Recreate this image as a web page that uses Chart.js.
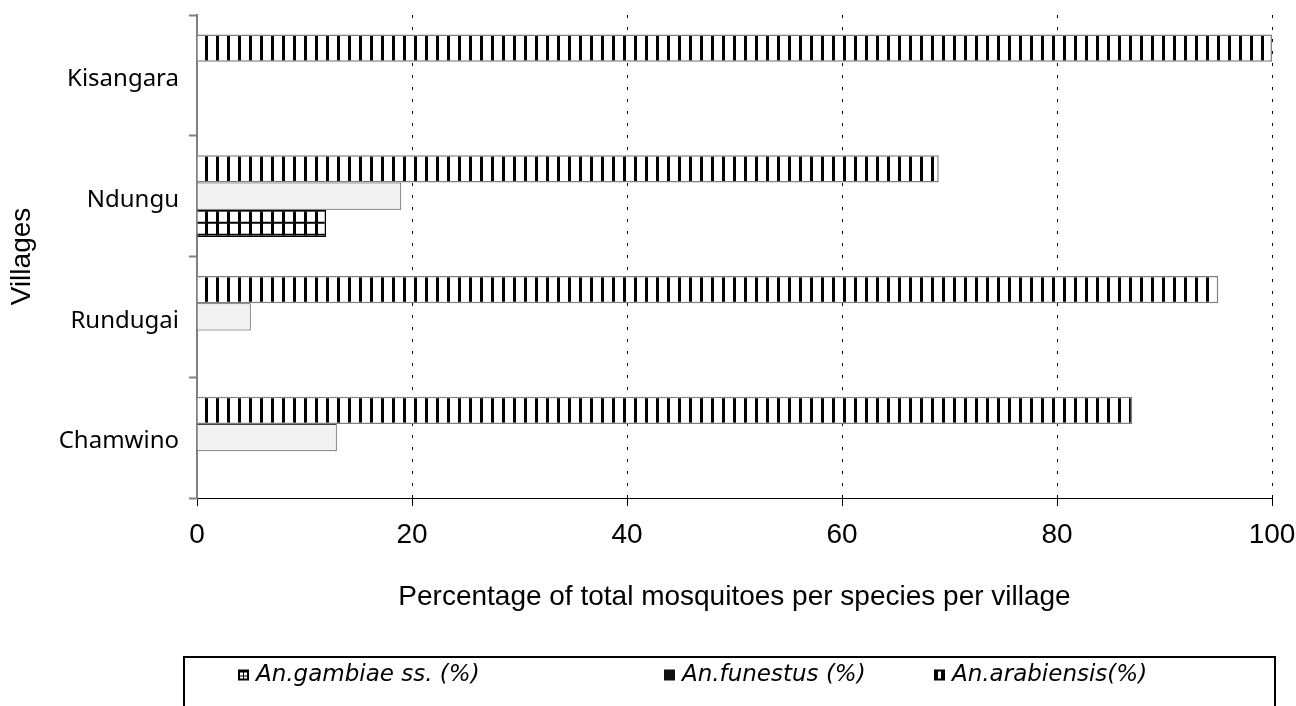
<!DOCTYPE html>
<html>
<head>
<meta charset="utf-8">
<script src="https://cdn.jsdelivr.net/npm/chart.js@4.4.0/dist/chart.umd.min.js"></script>
<style>
    html, body { margin: 0; padding: 0; background: #fff; }
    #wrap { width: 1296px; height: 706px; position: relative; }
</style>
</head>
<body>
<div id="wrap"><canvas id="speciesChart"></canvas></div>
<script>
// Villages, top to bottom as they appear on the chart
const villages = ['Kisangara', 'Ndungu', 'Rundugai', 'Chamwino'];

// Percentage of total mosquitoes per species per village
const gambiaeSS = [0, 12, 0, 0];
const funestus = [0, 19, 5, 13];
const arabiensis = [100, 69, 95, 87];

const xTickValues = [0, 20, 40, 60, 80, 100];
const legendLabels = ['An.gambiae ss. (%)', 'An.funestus (%)', 'An.arabiensis(%)'];

const canvas = document.getElementById('speciesChart');
const ctx = canvas.getContext('2d');

// Vertical stripes for An.arabiensis
function makeStripePattern() {
    const c = document.createElement('canvas');
    c.width = 11; c.height = 4;
    const g = c.getContext('2d');
    g.fillStyle = '#fff';
    g.fillRect(0, 0, 11, 4);
    g.fillStyle = '#000';
    g.fillRect(8, 0, 3, 4);
    return ctx.createPattern(c, 'repeat');
}

// Square grid for An.gambiae ss.
function makeGridPattern() {
    const c = document.createElement('canvas');
    c.width = 11; c.height = 12;
    const g = c.getContext('2d');
    g.fillStyle = '#fff';
    g.fillRect(0, 0, 11, 12);
    g.fillStyle = '#000';
    g.fillRect(8, 0, 3, 12);
    g.fillRect(0, 0, 11, 2);
    return ctx.createPattern(c, 'repeat');
}

const stripePattern = makeStripePattern();
const gridPattern = makeGridPattern();

// keep the hatching anchored to the bars
const patternAlign = {
    id: 'patternAlign',
    beforeDatasetsDraw(chart) {
        const left = chart.chartArea.left;
        const el = chart.getDatasetMeta(2).data[1];
        const top = el.y - el.height / 2;
        stripePattern.setTransform(new DOMMatrix([1, 0, 0, 1, left, 0]));
        gridPattern.setTransform(new DOMMatrix([1, 0, 0, 1, left, top]));
    }
};

// Boxed legend below the axis title, like the original figure
const boxLegend = {
    id: 'boxLegend',
    afterDraw(chart) {
        const c = chart.ctx;
        const boxTop = 657;
        const rowY = 675;
        const items = [238, 664, 934];

        c.save();
        c.strokeStyle = '#000';
        c.lineWidth = 2;
        c.strokeRect(184, boxTop, chart.width - 205, 80);

        c.font = 'italic 23px "DejaVu Sans"';
        c.textBaseline = 'middle';
        c.fillStyle = '#000';

        items.forEach((x, i) => {
            const s = 11;
            const y = rowY - s / 2;
            if (i === 0) {
                c.fillStyle = '#000';
                c.fillRect(x, y, s, s);
                c.fillStyle = '#fff';
                c.fillRect(x + 2, y + 3, 3, 3);
                c.fillRect(x + 6, y + 3, 3, 3);
                c.fillRect(x + 2, y + 7, 3, 2);
                c.fillRect(x + 6, y + 7, 3, 2);
            } else if (i === 1) {
                c.fillStyle = '#111';
                c.fillRect(x, y, s, s);
            } else {
                c.fillStyle = '#000';
                c.fillRect(x, y, s, s);
                c.fillStyle = '#fff';
                c.fillRect(x + 4, y + 2, 3, s - 4);
            }
            c.fillStyle = '#000';
            c.fillText(legendLabels[i], x + 18, rowY);
        });
        c.restore();
    }
};

function noScalePadding(scale) {
    scale.paddingTop = 0;
    scale.paddingBottom = 0;
    scale.paddingLeft = 0;
    scale.paddingRight = 0;
}

const chart = new Chart(ctx, {
    type: 'bar',
    data: {
        labels: villages,
        datasets: [
            {
                label: legendLabels[2],
                data: arabiensis,
                backgroundColor: stripePattern,
                borderColor: '#7f7f7f',
                borderWidth: 1.5
            },
            {
                label: legendLabels[1],
                data: funestus,
                backgroundColor: '#f2f2f2',
                borderColor: '#404040',
                borderWidth: 1
            },
            {
                label: legendLabels[0],
                data: gambiaeSS,
                backgroundColor: gridPattern,
                borderColor: '#000',
                borderWidth: 1.5
            }
        ]
    },
    options: {
        indexAxis: 'y',
        responsive: true,
        maintainAspectRatio: false,
        animation: false,
        categoryPercentage: 0.675,
        barPercentage: 1,
        layout: {
            padding: { top: 15, right: 24, bottom: 86, left: 0 }
        },
        plugins: {
            legend: { display: false },
            tooltip: { enabled: false }
        },
        scales: {
            x: {
                min: 0,
                max: 100,
                afterBuildTicks: (scale) => {
                    scale.ticks = xTickValues.map(v => ({ value: v }));
                },
                afterFit: (scale) => {
                    scale.height = 122;
                    noScalePadding(scale);
                },
                grid: {
                    color: (c) => (c.tick && c.tick.value === 0) ? 'rgba(0,0,0,0)' : '#000',
                    lineWidth: 1,
                    tickColor: '#000',
                    tickLength: 8,
                    tickBorderDash: []
                },
                border: { display: true, color: '#000', width: 1, dash: [3, 9] },
                ticks: {
                    color: '#000',
                    padding: 12,
                    font: { family: '"Liberation Sans", Arial, sans-serif', size: 28 }
                },
                title: {
                    display: true,
                    text: 'Percentage of total mosquitoes per species per village',
                    color: '#000',
                    padding: { top: 0, bottom: 6 },
                    font: { family: '"Liberation Sans", Arial, sans-serif', size: 28 }
                }
            },
            y: {
                afterFit: (scale) => {
                    scale.width = 197;
                    noScalePadding(scale);
                },
                grid: {
                    drawOnChartArea: false,
                    tickColor: '#808080',
                    tickLength: 8,
                    tickWidth: 2
                },
                border: { display: true, color: '#808080', width: 2 },
                ticks: {
                    color: '#000',
                    padding: 10,
                    labelOffset: 4,
                    font: { family: '"Noto Sans", sans-serif', size: 24 }
                },
                title: {
                    display: true,
                    text: 'Villages',
                    color: '#000',
                    padding: { top: 5, bottom: 0 },
                    font: { family: '"Liberation Sans", Arial, sans-serif', size: 28 }
                }
            }
        }
    },
    plugins: [patternAlign, boxLegend]
});
</script>
</body>
</html>
